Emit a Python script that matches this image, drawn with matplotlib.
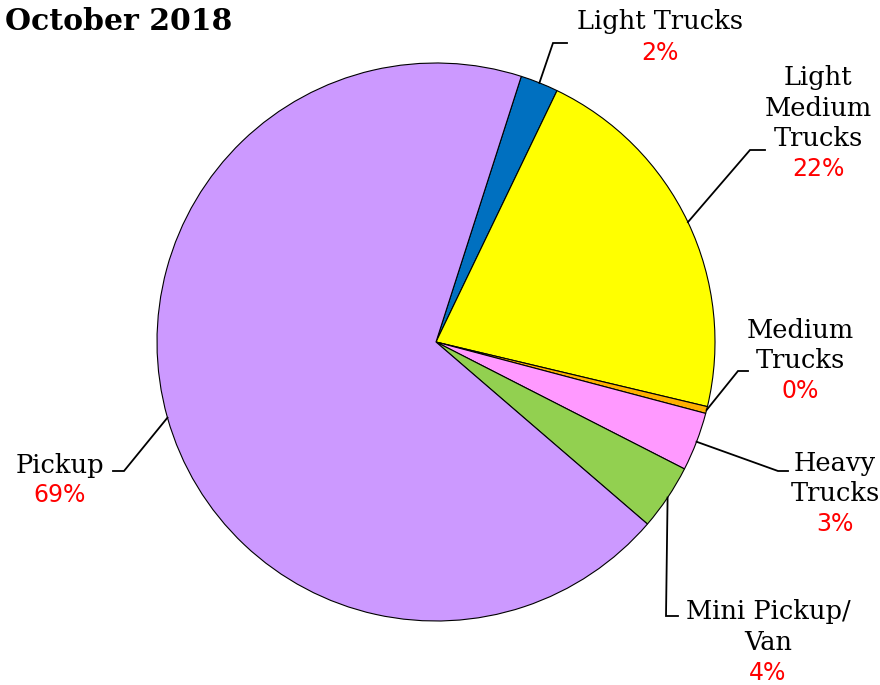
import numpy as np
import matplotlib.pyplot as plt

# data
labels = ['Light Trucks', 'Light\nMedium\nTrucks', 'Medium\nTrucks',
          'Heavy\nTrucks', 'Mini Pickup/\nVan', 'Pickup']
shares = [2.2, 21.6, 0.4, 3.4, 3.8, 68.7]
colors = ['#0070C0', '#FFFF00', '#FFB000', '#FF99FF', '#92D050', '#CC99FF']
title = 'October 2018'

W, H = 880, 685
cx, cy, R = 436, 342, 279   # pie centre / radius in pixels


def px(x, y):
    # pixel position -> data coords (pie radius = 1)
    return (x - cx) / R, (cy - y) / R


fig = plt.figure(figsize=(W / 100, H / 100), dpi=100)
ax = fig.add_axes([0, 0, 1, 1])

wedges, _ = ax.pie(shares, colors=colors, startangle=72.2, counterclock=False,
                   radius=1, center=(0, 0),
                   wedgeprops=dict(edgecolor='black', linewidth=0.8))
ax.set_xlim(-cx / R, (W - cx) / R)
ax.set_ylim((cy - H) / R, cy / R)
ax.set_aspect('equal')
ax.axis('off')

# elbow point, end of horizontal tick, first label line centre (pixels)
layout = [
    ((553, 43), (567, 43), (660, 22)),
    ((750, 150), (765, 150), (818, 78)),
    ((738, 371), (748, 371), (800, 330)),
    ((778, 471), (788, 471), (835, 463)),
    ((666, 616), (678, 616), (768, 612)),
    ((124, 471), (113, 471), (60, 465)),
]
line_h = 30.5
total = sum(shares)
for w, lab, val, (elb, end, tpos) in zip(wedges, labels, shares, layout):
    mid = np.deg2rad((w.theta1 + w.theta2) / 2)
    x0, y0 = np.cos(mid), np.sin(mid)
    x1, y1 = px(*elb)
    x2, y2 = px(*end)
    ax.plot([x0, x1, x2], [y0, y1, y2], color='black', lw=1.3,
            solid_joinstyle='miter')
    lines = lab.split('\n')
    for k, s in enumerate(lines):
        tx, ty = px(tpos[0], tpos[1] + k * line_h)
        ax.text(tx, ty, s, ha='center', va='center', fontsize=18.5,
                family='DejaVu Serif', color='black')
    pct = '{:d}%'.format(int(round(val / total * 100)))
    tx, ty = px(tpos[0], tpos[1] + len(lines) * line_h)
    ax.text(tx, ty, pct, ha='center', va='center', fontsize=17,
            family='DejaVu Sans', color='red')

fig.text(5 / W, 1 - 21 / H, title, ha='left', va='center', fontsize=21.5,
         family='DejaVu Serif', fontweight='bold')

plt.savefig('out.png', dpi=100)
